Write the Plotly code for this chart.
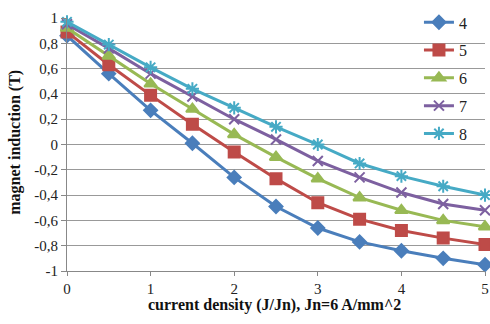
import plotly.graph_objects as go

x_vals = [0, 0.5, 1, 1.5, 2, 2.5, 3, 3.5, 4, 4.5, 5]
series_names = ["4", "5", "6", "7", "8"]
s4 = [0.86, 0.56, 0.27, 0.01, -0.26, -0.49, -0.66, -0.77, -0.84, -0.90, -0.95]
s5 = [0.89, 0.63, 0.39, 0.16, -0.06, -0.27, -0.46, -0.59, -0.68, -0.74, -0.79]
s6 = [0.92, 0.70, 0.48, 0.28, 0.08, -0.10, -0.27, -0.42, -0.52, -0.60, -0.65]
s7 = [0.95, 0.76, 0.56, 0.38, 0.20, 0.04, -0.13, -0.26, -0.38, -0.47, -0.52]
s8 = [0.97, 0.79, 0.61, 0.44, 0.29, 0.14, 0.00, -0.15, -0.25, -0.33, -0.40]
y_tickvals = [-1, -0.8, -0.6, -0.4, -0.2, 0, 0.2, 0.4, 0.6, 0.8, 1]
y_ticktext = ["-1", "-0,8", "-0,6", "-0,4", "-0,2", "0", "0,2", "0,4", "0,6", "0,8", "1"]
x_tickvals = [0, 1, 2, 3, 4, 5]
x_title = "current density (J/Jn), Jn=6 A/mm^2"
y_title = "magnet induction (T)"

SERIF = "Liberation Serif, Times New Roman, serif"
colors = ["#4A7EBB", "#BE4B48", "#98B954", "#7D60A0", "#46AAC5"]
symbols = ["diamond", "square", "triangle-up", "x-thin-open", "asterisk-open"]
sizes = [10, 11, 11, 10, 11]

fig = go.Figure()
for name, ys, c, sym, sz in zip(series_names, [s4, s5, s6, s7, s8], colors, symbols, sizes):
    fig.add_trace(go.Scatter(
        x=x_vals, y=ys, name=name, mode="lines+markers", legendgroup=name,
        line=dict(color=c, width=3), cliponaxis=False,
        marker=dict(symbol=sym, size=sz, color=c, line=dict(color=c, width=2)),
    ))

tickfont = dict(family=SERIF, size=15, color="#222")
fig.update_layout(
    width=490, height=324,
    margin=dict(l=67, r=5, t=9, b=53),
    paper_bgcolor="white", plot_bgcolor="white",
    font=dict(family=SERIF, size=15, color="#222"),
    showlegend=True,
    legend=dict(x=0.842, y=1.05, xanchor="left", yanchor="top",
                bgcolor="rgba(0,0,0,0)",
                font=dict(family=SERIF, size=16, color="#222"),
                traceorder="grouped", tracegroupgap=4),
    xaxis=dict(range=[0, 5], tickvals=x_tickvals, showgrid=False,
               showline=True, linecolor="#888", linewidth=1,
               ticks="outside", ticklen=4, tickcolor="#888",
               tickfont=tickfont, zeroline=False, automargin=False),
    yaxis=dict(range=[-1, 1], tickvals=y_tickvals, ticktext=y_ticktext,
               showgrid=True, gridcolor="#999", gridwidth=1,
               showline=True, linecolor="#888", linewidth=1,
               ticks="outside", ticklen=5, tickcolor="#888",
               tickfont=tickfont, zeroline=False, automargin=False),
    annotations=[
        dict(text="<b>" + x_title + "</b>", xref="paper", yref="paper",
             x=0.497, y=-0.136, xanchor="center", yanchor="middle",
             showarrow=False, font=dict(family=SERIF, size=16, color="#111")),
        dict(text="<b>" + y_title + "</b>", xref="paper", yref="paper",
             x=-0.125, y=0.51, xanchor="center", yanchor="middle",
             textangle=-90, showarrow=False,
             font=dict(family=SERIF, size=16, color="#111")),
    ],
)

fig.write_html("out.html", config={"displayModeBar": False},
               post_script="document.body.style.margin='0';")
